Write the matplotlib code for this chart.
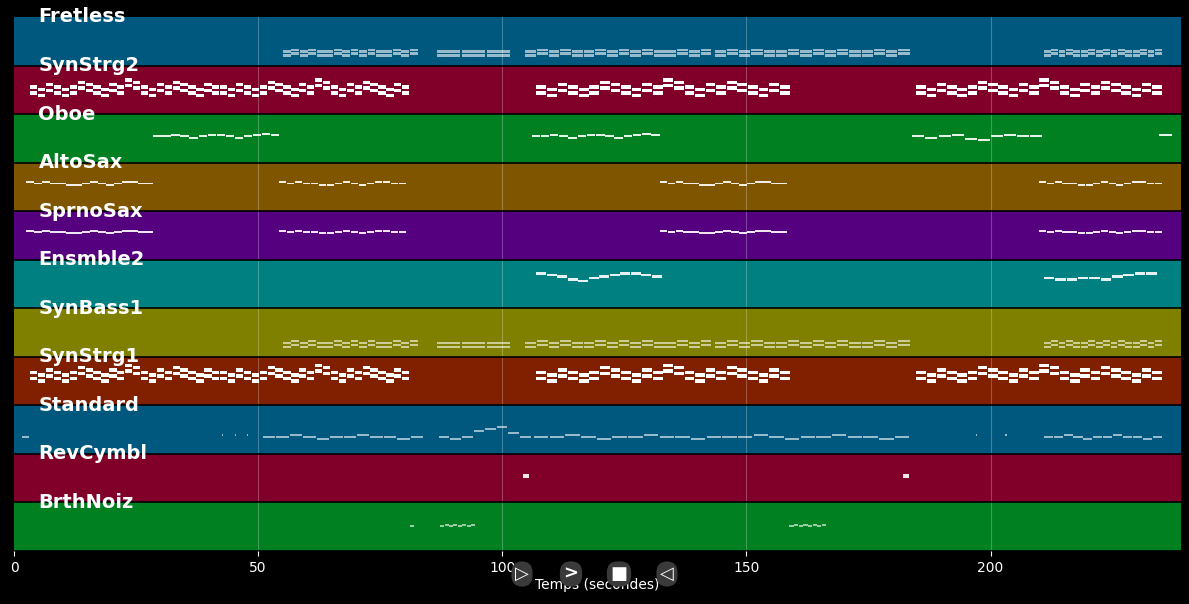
import matplotlib
matplotlib.use("Agg")
import matplotlib.pyplot as plt
from matplotlib.patches import Rectangle

tracks = ["Fretless", "SynStrg2", "Oboe", "AltoSax", "SprnoSax", "Ensmble2",
          "SynBass1", "SynStrg1", "Standard", "RevCymbl", "BrthNoiz"]
row_colors = ["#00587f", "#80002a", "#008020", "#7f5500", "#55007f", "#008080",
              "#808000", "#802000", "#00587f", "#80002a", "#008020"]
note_alpha = [0.6, 1.0, 0.9, 0.9, 0.9, 0.9, 0.6, 1.0, 0.6, 0.9, 0.6]
note_h = [0.05, 0.07, 0.04, 0.04, 0.04, 0.05, 0.05, 0.07, 0.04, 0.08, 0.03]

# phrases per track: (start s, end s, pitch levels in row units)
fret_p = [0, 1, 0, 1, 0, 0, 1, 0, 1, 0, 1, 0, 0, 1, 0, 1]
strg_p = [2, 1, 3, 2, 1, 2, 4, 3, 2, 1, 3, 2, 5, 4, 2, 1, 3, 2, 4, 3, 2, 1, 3, 2]
oboe_p = [0, 0, 1, 0, -1, 0, 1, 1, 0, -1, 0, 1, 2, 1]
sax_p = [1, 0, 1, 0, 0, -1, -1, 0, 1, 0, -1, 0, 1, 1, 0, 0]
ens_p = [3, 2, 1, -1, -2, 0, 1, 2, 3, 3, 2, 1]
std_p = [0, 0, 1, 0, -1, 0, 0, 1, 0, 0, -1, 0]

phrases = {
    "Fretless": [(55.1, 82.8, fret_p), (86.7, 102.0, [0, 0, 0]), (104.7, 143.0, fret_p),
                 (143.5, 183.6, fret_p), (210.9, 235.2, fret_p)],
    "SynStrg2": [(3.3, 81.1, strg_p + strg_p), (107.0, 159.0, strg_p), (184.8, 235.2, strg_p)],
    "Oboe": [(28.5, 54.5, oboe_p), (106.0, 132.4, oboe_p), (184.0, 210.7, [0, -1, 0, 1, -2, -3, 0, 1, 0, 0]),
             (234.4, 237.3, [1])],
    "AltoSax": [(2.5, 28.7, sax_p), (54.3, 80.5, sax_p), (132.2, 158.4, sax_p), (210.0, 235.2, sax_p)],
    "SprnoSax": [(2.5, 28.7, sax_p), (54.3, 80.5, sax_p), (132.2, 158.4, sax_p), (210.0, 235.2, sax_p)],
    "Ensmble2": [(107.0, 132.8, ens_p), (210.9, 234.2, [0, -1, -1, 0, 0, -1, 1, 2, 3, 3])],
    "SynBass1": [(55.1, 82.8, fret_p), (86.7, 102.0, [0, 0, 0]), (104.7, 143.0, fret_p),
                 (143.5, 183.6, fret_p), (210.9, 235.2, fret_p)],
    "SynStrg1": [(3.3, 81.1, strg_p + strg_p), (107.0, 159.0, strg_p), (184.8, 235.2, strg_p)],
    "Standard": [(1.6, 3.3, [0]), (42.5, 42.8, [1]), (45.2, 45.5, [1]), (47.7, 48.0, [1]),
                 (51.0, 84.0, std_p), (87.0, 106.0, [0, -1, 0, 3, 4, 5, 2, 0]),
                 (106.5, 183.6, std_p + std_p), (197.0, 197.3, [1]), (203.0, 203.3, [1]),
                 (210.9, 235.2, std_p)],
    "RevCymbl": [(104.3, 105.5, [0]), (182.0, 183.4, [0])],
    "BrthNoiz": [(81.1, 82.0, [0, 0]), (87.3, 94.5, [0, 1, 0, 1, 0, 1, 0, 1]),
                 (158.8, 166.4, [0, 1, 0, 1, 0, 1, 0, 1])],
}
# vertical offset of note band within each row (fraction from row bottom)
band = [0.18, 0.3, 0.52, 0.55, 0.55, 0.6, 0.18, 0.42, 0.33, 0.5, 0.5]
pitch_step = [0.04, 0.05, 0.025, 0.025, 0.025, 0.03, 0.04, 0.05, 0.04, 0.0, 0.02]

ticks = [0, 50, 100, 150, 200]
xmax = 239

fig = plt.figure(figsize=(11.89, 6.04), dpi=100, facecolor="black")
ax = fig.add_axes([14/1189, 1-551/604, (1181-14)/1189, (551-17)/604])
ax.set_facecolor("black")
n = len(tracks)
ax.set_xlim(0, xmax)
ax.set_ylim(0, n)
for i, name in enumerate(tracks):
    y0 = n - 1 - i
    ax.add_patch(Rectangle((0, y0), xmax, 1, facecolor=row_colors[i], edgecolor="none", zorder=0))
    ax.axhline(y0, color="black", lw=1.2, zorder=3)
    for (s, e, ps) in phrases[name]:
        d = (e - s) / len(ps)
        for k, p in enumerate(ps):
            yy = y0 + band[i] + p * pitch_step[i]
            ax.add_patch(Rectangle((s + k * d, yy), d * 0.92, note_h[i], facecolor="white",
                                   alpha=note_alpha[i], edgecolor="none", zorder=2))
            if name in ("SynStrg2", "SynStrg1"):
                ax.add_patch(Rectangle((s + k * d, yy + 0.12), d * 0.92, note_h[i], facecolor="white",
                                       edgecolor="none", zorder=2))
            if name in ("Fretless", "SynBass1"):
                ax.add_patch(Rectangle((s + k * d, yy + 0.08), d * 0.92, note_h[i], facecolor="white",
                                       alpha=0.6, edgecolor="none", zorder=2))
    ax.text(5, y0 + 1, name, color="white", fontsize=14, fontweight="bold", va="center", ha="left", zorder=5)
for t in ticks[1:]:
    ax.axvline(t, color="white", alpha=0.25, lw=0.8, zorder=1)
ax.set_xticks(ticks)
ax.set_yticks([])
ax.tick_params(axis="x", colors="white", labelsize=10)
for sp in ax.spines.values():
    sp.set_visible(False)
ax.set_xlabel("Temps (secondes)", color="white", fontsize=10, labelpad=2)

for xp, sym in [(522, "▷"), (571, ">"), (619, "■"), (667, "◁")]:
    fig.text(xp/1189, 1-574/604, sym, color="white", fontsize=13, fontweight="bold", ha="center", va="center",
             bbox=dict(boxstyle="round,pad=0.2,rounding_size=0.6", fc="#3a3a3a", ec="none"),
             zorder=0)

fig.savefig("out.png", dpi=100, facecolor="black")
